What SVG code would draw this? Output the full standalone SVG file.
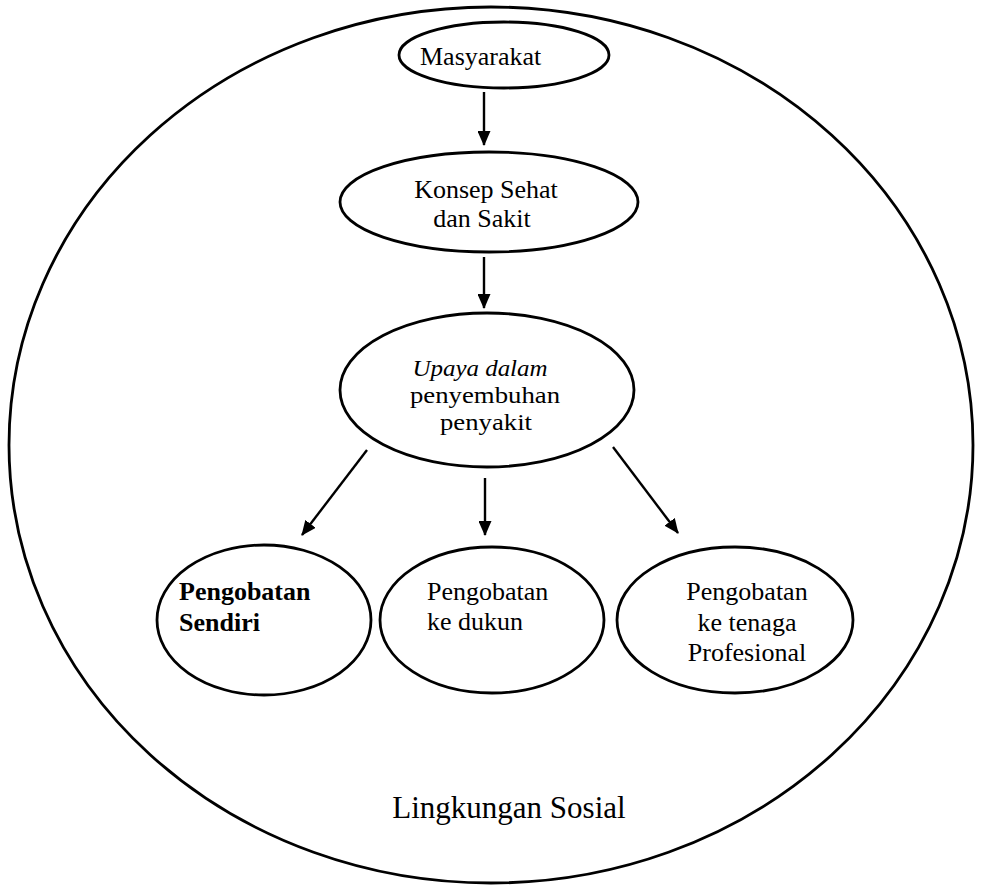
<svg xmlns="http://www.w3.org/2000/svg" width="987" height="887" viewBox="0 0 987 887">
<defs>
<style>
.sh{fill:#fff;stroke:#000;stroke-width:2.8}
.bg{fill:none;stroke:#000;stroke-width:2.8}
.t{font-family:"Liberation Serif","Times New Roman",serif;font-size:26px;fill:#000}
.s{font-size:24px}
.c{text-anchor:middle}
.ln{stroke:#000;stroke-width:2.4;fill:none}
</style>
<marker id="ah" viewBox="0 0 15 13" refX="14" refY="6.5" markerWidth="15" markerHeight="13" markerUnits="userSpaceOnUse" orient="auto">
<path d="M0,0 L15,6.5 L0,13 z" fill="#000"/>
</marker>
</defs>
<rect width="987" height="887" fill="#fff"/>
<g id="lingkungan">
<ellipse class="bg" cx="491" cy="445" rx="482" ry="438"/>
<text class="t c" x="509" y="818" style="font-size:31px">Lingkungan Sosial</text>
</g>
<g id="masyarakat">
<ellipse class="sh" cx="504" cy="55" rx="105" ry="33"/>
<text class="t" x="420" y="65">Masyarakat</text>
</g>
<g id="konsep">
<ellipse class="sh" cx="489" cy="202" rx="149" ry="50"/>
<text class="t c" x="486" y="198">Konsep Sehat</text>
<text class="t c" x="482" y="227">dan Sakit</text>
</g>
<g id="upaya">
<ellipse class="sh" cx="487" cy="390" rx="147" ry="77"/>
<text class="t s c" x="480" y="376" font-style="italic" textLength="135" lengthAdjust="spacingAndGlyphs">Upaya dalam</text>
<text class="t s c" x="485" y="403" textLength="150" lengthAdjust="spacingAndGlyphs">penyembuhan</text>
<text class="t s c" x="486" y="430" textLength="92" lengthAdjust="spacingAndGlyphs">penyakit</text>
</g>
<g id="sendiri">
<ellipse class="sh" cx="264" cy="620" rx="107" ry="75"/>
<text class="t" x="179" y="600" font-weight="bold">Pengobatan</text>
<text class="t" x="179" y="631" font-weight="bold">Sendiri</text>
</g>
<g id="dukun">
<ellipse class="sh" cx="492" cy="620" rx="112" ry="73"/>
<text class="t" x="427" y="600">Pengobatan</text>
<text class="t" x="427" y="630">ke dukun</text>
</g>
<g id="profesional">
<ellipse class="sh" cx="735" cy="620" rx="118" ry="73"/>
<text class="t c" x="747" y="600">Pengobatan</text>
<text class="t c" x="747" y="631">ke tenaga</text>
<text class="t c" x="747" y="661">Profesional</text>
</g>
<g id="connectors">
<line class="ln" x1="484" y1="92" x2="484" y2="145" marker-end="url(#ah)"/>
<line class="ln" x1="484" y1="257" x2="484" y2="308" marker-end="url(#ah)"/>
<line class="ln" x1="485" y1="478" x2="485" y2="535" marker-end="url(#ah)"/>
<line class="ln" x1="367" y1="450" x2="302" y2="535" marker-end="url(#ah)"/>
<line class="ln" x1="613" y1="447" x2="678" y2="533" marker-end="url(#ah)"/>
</g>
</svg>
